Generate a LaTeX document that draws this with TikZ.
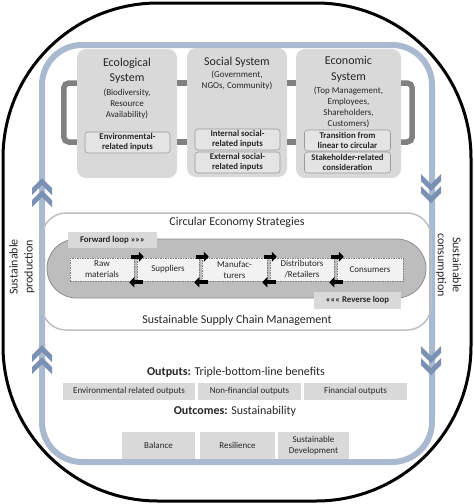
\documentclass[tikz,border=0pt]{standalone}
\usepackage{fontspec}
\setmainfont{Carlito}
\usetikzlibrary{arrows.meta}
\definecolor{loopblue}{HTML}{A9B9D0}
\definecolor{chevblue}{HTML}{7B91B3}
\definecolor{sysgray}{HTML}{D9D9D9}
\definecolor{conngray}{HTML}{808080}
\definecolor{subfill}{HTML}{E4E4E4}
\definecolor{subdraw}{HTML}{9A9A9A}
\definecolor{midborder}{HTML}{BFBFBF}
\definecolor{stadfill}{HTML}{BDBDBD}
\definecolor{staddraw}{HTML}{8C8C8C}
\definecolor{chainfill}{HTML}{F2F2F2}
\definecolor{txt}{HTML}{262626}
\begin{document}
\begin{tikzpicture}[x=1pt,y=-1pt,
  every node/.style={text=txt},
  sysbox/.style={fill=sysgray, rounded corners=9pt, inner sep=0},
  systitle/.style={font=\fontsize{12}{15.5}\selectfont, align=center, inner sep=0},
  syssub/.style={font=\fontsize{9}{11}\selectfont, align=center, inner sep=0},
  subbox/.style={fill=subfill, draw=subdraw, line width=0.6pt, rounded corners=3pt,
     font=\fontsize{8.8}{10}\selectfont\bfseries, align=center, inner sep=0, minimum height=21pt},
  conn/.style={draw=conngray, line width=5.5pt},
  chainbox/.style={fill=chainfill, draw=gray, dashed, line width=0.5pt, dash pattern=on 1.5pt off 1pt,
     font=\fontsize{9}{11}\selectfont, align=center, inner sep=0, minimum height=23pt},
  loopbox/.style={fill=sysgray, inner sep=0, font=\fontsize{8.8}{10}\selectfont\bfseries},
  fwdarrow/.style={line width=4pt, -{Triangle[length=5pt,width=10pt]}},
  outbox/.style={fill=sysgray, inner sep=0, font=\fontsize{9}{11}\selectfont, align=center},
  heading/.style={font=\fontsize{12}{14}\selectfont, inner sep=0},
  sidetext/.style={font=\fontsize{12}{15}\selectfont, align=center, inner sep=0}
]
\useasboundingbox (0,0) rectangle (474,504);

% outer black frame (r = 155)
\draw[line width=3pt] (158,3) -- (316,3) arc[start angle=90, end angle=0, radius=155pt]
  -- (471,346) arc[start angle=0, end angle=-90, radius=155pt]
  -- (158,501) arc[start angle=270, end angle=180, radius=155pt]
  -- (3,158) arc[start angle=180, end angle=90, radius=155pt] -- cycle;

% blue loop (r = 40)
\draw[loopblue, line width=6pt] (82,45) -- (392,45) arc[start angle=90, end angle=0, radius=40pt]
  -- (432,422) arc[start angle=0, end angle=-90, radius=40pt]
  -- (82,462) arc[start angle=270, end angle=180, radius=40pt]
  -- (42,85) arc[start angle=180, end angle=90, radius=40pt] -- cycle;

% chevrons (up on left, down on right)
\foreach \ty in {178,190,345,357} {
  \fill[chevblue] (32,\ty+10) -- (42,\ty) -- (52,\ty+10) -- (52,\ty+17) -- (42,\ty+7) -- (32,\ty+17) -- cycle;
}
\foreach \by in {203,191,375,363} {
  \fill[chevblue] (421,\by-10) -- (431,\by) -- (441,\by-10) -- (441,\by-17) -- (431,\by-7) -- (421,\by-17) -- cycle;
}

% system boxes
\node[sysbox, minimum width=100pt, minimum height=129pt] (eco) at (127,113.5) {};
\node[sysbox, minimum width=100pt, minimum height=129pt] (soc) at (237,112.5) {};
\node[sysbox, minimum width=105pt, minimum height=129pt] (econ) at (348.5,113.5) {};

% connectors between systems
\draw[conn] ([yshift=30.5pt]eco.east) -- ([yshift=29.5pt]soc.west);
\draw[conn] ([yshift=-28.5pt]eco.east) -- ([yshift=-29.5pt]soc.west);
\draw[conn] ([yshift=29.5pt]soc.east) -- ([yshift=30.5pt]econ.west);
\draw[conn] ([yshift=-29.5pt]soc.east) -- ([yshift=-28.5pt]econ.west);
\draw[conn, rounded corners=5pt] ([yshift=30.5pt]eco.west) -- ++(-13,0) -- ++(0,59) -- ++(13,0);
\draw[conn, rounded corners=5pt] ([yshift=30.5pt]econ.east) -- ++(11,0) -- ++(0,59) -- ++(-11,0);

% system texts
\node[systitle] (ecot) at (127,71) {Ecological\\System};
\node[syssub] (ecos) at (127,103.5) {(Biodiversity,\\Resource\\Availability)};
\node[systitle] (soct) at (237,62) {Social System};
\node[syssub] (socs) at (237,80.5) {(Government,\\NGOs, Community)};
\node[systitle] (econt) at (348.5,69.5) {Economic\\System};
\node[syssub] (econs) at (348.5,107.5) {(Top Management,\\Employees,\\Shareholders,\\Customers)};

% sub boxes
\node[subbox, minimum width=85pt] (env) at (127.5,142.5) {Environmental-\\related inputs};
\node[subbox, minimum width=85pt] (intl) at (237.5,139.5) {Internal social-\\related inputs};
\node[subbox, minimum width=85pt] (extl) at (237.5,162.5) {External social-\\related inputs};
\node[subbox, minimum width=86pt] (trans) at (347.5,140.5) {Transition from\\linear to circular};
\node[subbox, minimum width=86pt] (stake) at (347.5,162.5) {Stakeholder-related\\consideration};

% middle section
\node[draw=midborder, line width=1.5pt, rounded corners=24pt, minimum width=389pt, minimum height=117pt, inner sep=0] (ssc) at (236.5,271.5) {};
\node[heading] (ces) at (237,222) {Circular Economy Strategies};
\node[heading] (sscm) at (237,320) {Sustainable Supply Chain Management};
\node[fill=stadfill, draw=staddraw, line width=0.8pt, rounded corners=29.5pt, minimum width=379pt, minimum height=59pt, inner sep=0] (stad) at (236.5,268.5) {};
\node[loopbox, minimum width=89pt, minimum height=16pt] (fwd) at (112.5,240) {Forward loop »»»};
\node[loopbox, minimum width=87pt, minimum height=17pt] (rev) at (357.5,300.5) {««« Reverse loop};

% chain
\node[chainbox, minimum width=64pt] (raw) at (102,269.5) {Raw\\materials};
\node[chainbox, minimum width=62pt] (sup) at (168,269.5) {Suppliers};
\node[chainbox, minimum width=65pt] (man) at (234.5,269.5) {Manufac-\\turers};
\node[chainbox, minimum width=64pt] (dis) at (302,269.5) {Distributors\\/Retailers};
\node[chainbox, minimum width=66pt] (con) at (370,269.5) {Consumers};

\foreach \a/\b in {raw/sup, sup/man, man/dis, dis/con} {
  \draw[fwdarrow] ([xshift=-3pt,yshift=1pt]\a.north east) -- ([xshift=7pt,yshift=1pt]\b.north west);
  \draw[fwdarrow] ([xshift=6pt,yshift=-1pt]\b.south west) -- ([xshift=-5pt,yshift=-1pt]\a.south east);
}

% side texts
\node[sidetext, rotate=90] (sprod) at (22,267) {Sustainable\\production};
\node[sidetext, rotate=-90] (scons) at (448.5,265) {Sustainable\\consumption};

% outputs
\node[heading] (outh) at (236,372) {\textbf{Outputs:} Triple-bottom-line benefits};
\node[outbox, minimum width=132pt, minimum height=17pt] (o1) at (129,391.5) {Environmental related outputs};
\node[outbox, minimum width=103pt, minimum height=17pt] (o2) at (249.5,391.5) {Non-financial outputs};
\node[outbox, minimum width=103pt, minimum height=17pt] (o3) at (355.5,391.5) {Financial outputs};

% outcomes
\node[heading] (outc) at (235,411) {\textbf{Outcomes:} Sustainability};
\node[outbox, minimum width=73pt, minimum height=27pt] (c1) at (158.5,445.5) {Balance};
\node[outbox, minimum width=75pt, minimum height=27pt] (c2) at (237.5,445.5) {Resilience};
\node[outbox, minimum width=71pt, minimum height=27pt] (c3) at (313.5,445.5) {Sustainable\\Development};
\end{tikzpicture}
\end{document}
